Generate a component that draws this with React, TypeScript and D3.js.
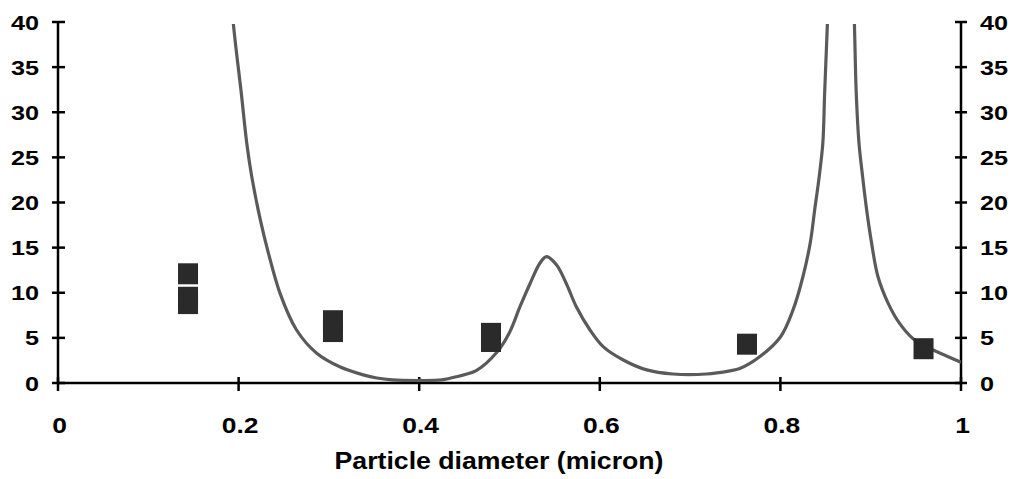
import React from "react";
import * as d3 from "d3";

// Curve (theory) values
const curveX = [0.188, 0.194, 0.203, 0.209, 0.2145, 0.224, 0.233, 0.246, 0.264, 0.2865, 0.312, 0.338, 0.353, 0.37, 0.4, 0.425, 0.4415, 0.4636, 0.486, 0.5, 0.5116, 0.5227, 0.5338, 0.541, 0.552, 0.563, 0.574, 0.589, 0.604, 0.626, 0.652, 0.681, 0.718, 0.744, 0.755, 0.777, 0.8, 0.814, 0.825, 0.833, 0.838, 0.843, 0.847, 0.849, 0.852, 0.856, 0.867, 0.879, 0.882, 0.884, 0.887, 0.891, 0.8955, 0.901, 0.908, 0.9195, 0.932, 0.947, 0.962, 0.977, 1.0];
const curveY = [48, 40, 32.1, 26.6, 22.9, 18.1, 14.4, 9.9, 5.9, 3.3, 1.8, 0.9, 0.55, 0.35, 0.28, 0.35, 0.7, 1.4, 3.4, 5.6, 8.45, 11.0, 13.3, 14.0, 13.1, 11.0, 8.45, 5.9, 4.0, 2.55, 1.45, 1.0, 1.0, 1.35, 1.6, 2.9, 5.1, 8.1, 11.8, 15.5, 19.2, 22.9, 26.6, 32.1, 39.7, 50, 120, 50, 39.7, 32.1, 26.6, 22.9, 19.2, 15.5, 11.8, 8.8, 6.6, 4.9, 4.0, 3.3, 2.3];

// Measured points
const pointX = [0.144, 0.144, 0.144, 0.3045, 0.3045, 0.4795, 0.4795, 0.763, 0.9585];
const pointY = [12.1, 9.5, 8.8, 6.9, 5.7, 5.5, 4.6, 4.3, 3.8];

const xTicks = [0, 0.2, 0.4, 0.6, 0.8, 1];
const xTickLabels = ["0", "0.2", "0.4", "0.6", "0.8", "1"];
const yTicks = [0, 5, 10, 15, 20, 25, 30, 35, 40];
const xTitle = "Particle diameter (micron)";

const W = 1011;
const H = 479;
const M = { left: 58, right: 50, top: 22, bottom: 96 };
const FONT = "'Liberation Sans', Arial, Helvetica, sans-serif";

export default function App() {
  const x = d3.scaleLinear().domain([0, 1]).range([M.left, W - M.right]);
  const y = d3.scaleLinear().domain([0, 40]).range([H - M.bottom, M.top]);
  const data = curveX.map((v, i) => [v, curveY[i]] as [number, number]);
  const line = d3
    .line<[number, number]>()
    .x((d) => x(d[0]))
    .y((d) => y(d[1]))
    .curve(d3.curveCatmullRom.alpha(0.5));
  const x0 = x(0);
  const x1 = x(1);
  const y0 = y(0);
  const yTop = y(40);
  const sq = 20;
  const sqH = 21;
  return (
    <svg
      width={W}
      height={H}
      style={{ position: "absolute", left: 0, top: 0, background: "#fff" }}
    >
      <defs>
        <clipPath id="plot">
          <rect x={x0} y={yTop + 2} width={x1 - x0} height={y0 - yTop} />
        </clipPath>
      </defs>
      <rect x={0} y={0} width={W} height={H} fill="#fff" />
      {/* axes */}
      <g stroke="#000" strokeWidth={2.5} fill="none">
        <line x1={x0} y1={y0} x2={x1} y2={y0} />
        <line x1={x0} y1={y0} x2={x0} y2={yTop} />
        <line x1={x1} y1={y0} x2={x1} y2={yTop} />
        {yTicks.map((t) => (
          <g key={"yt" + t}>
            <line x1={x0 - 6} x2={x0 + 7} y1={y(t)} y2={y(t)} />
            <line x1={x1 - 6} x2={x1 + 6} y1={y(t)} y2={y(t)} />
          </g>
        ))}
        {xTicks.map((t) => (
          <line key={"xt" + t} x1={x(t)} x2={x(t)} y1={y0 - 6} y2={y0 + 8} />
        ))}
      </g>
      {/* curve */}
      <path
        d={line(data) || ""}
        fill="none"
        stroke="#5a5a5a"
        strokeWidth={3.2}
        strokeLinejoin="round"
        clipPath="url(#plot)"
      />
      {/* points */}
      {pointX.map((px, i) => (
        <rect
          key={"p" + i}
          x={x(px) - sq / 2}
          y={y(pointY[i]) - sqH / 2}
          width={sq}
          height={sqH}
          fill="#2a2a2a"
        />
      ))}
      {/* tick labels */}
      <g fontFamily={FONT} fontWeight="bold" fill="#000">
        {yTicks.map((t) => (
          <g key={"yl" + t}>
            <text
              transform={`translate(${x0 - 19},${y(t) + 7.5}) scale(1.2,1)`}
              textAnchor="end"
              fontSize={21}
            >
              {t}
            </text>
            <text
              transform={`translate(${x1 + 19},${y(t) + 7.5}) scale(1.2,1)`}
              textAnchor="start"
              fontSize={21}
            >
              {t}
            </text>
          </g>
        ))}
        {xTicks.map((t, i) => (
          <text
            key={"xl" + t}
            transform={`translate(${x(t) + 1.5},433) scale(1.2,1)`}
            textAnchor="middle"
            fontSize={22}
          >
            {xTickLabels[i]}
          </text>
        ))}
        <text
          transform={`translate(499,469) scale(1.16,1)`}
          textAnchor="middle"
          fontSize={23}
        >
          {xTitle}
        </text>
      </g>
    </svg>
  );
}
